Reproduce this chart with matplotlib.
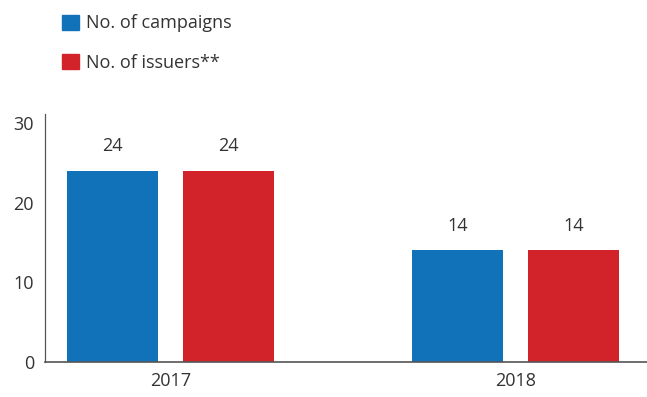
import matplotlib
matplotlib.use("Agg")
import matplotlib.pyplot as plt
from matplotlib.patches import Patch
import numpy as np

plt.rcParams['font.family'] = ['Open Sans', 'DejaVu Sans']

years = ["2017", "2018"]
campaigns = [24, 14]
issuers = [24, 14]
series_names = ["No. of campaigns", "No. of issuers**"]
yticks = [0, 10, 20, 30]

blue = "#1172BA"
red = "#D2232A"
txt = "#333333"

fig = plt.figure(figsize=(6.47, 3.97), dpi=100)
ax = fig.add_axes([45/647, 1-362/397, (647-45)/647, 248/397])

x = np.arange(len(years))
w = 0.264
off = 0.168
b1 = ax.bar(x - off, campaigns, w, color=blue)
b2 = ax.bar(x + off, issuers, w, color=red)

for bars, vals in ((b1, campaigns), (b2, issuers)):
    for rect, v in zip(bars, vals):
        ax.annotate(str(v), (rect.get_x() + rect.get_width()/2, rect.get_height()),
                    xytext=(0, 11), textcoords="offset points",
                    ha="center", va="bottom", fontsize=13, color=txt)

ax.set_xlim(-0.364, 1.38)
ax.set_ylim(0, 31.1)
ax.set_yticks(yticks)
ax.set_yticklabels([str(t) for t in yticks])
ax.set_xticks(x)
ax.set_xticklabels(years)
ax.tick_params(axis="both", length=0, labelsize=13, colors=txt)
ax.tick_params(axis="y", pad=8)
ax.tick_params(axis="x", pad=7)
for s in ("top", "right"):
    ax.spines[s].set_visible(False)
ax.spines["left"].set_color("#555555")
ax.spines["bottom"].set_color("#555555")
ax.spines["left"].set_linewidth(0.9)
ax.spines["bottom"].set_linewidth(1.2)

handles = [Patch(color=blue), Patch(color=red)]
fig.legend(handles, series_names, loc="upper left", bbox_to_anchor=(46/647, 1.005),
           frameon=False, fontsize=13, handlelength=0.9, handleheight=0.9,
           handletextpad=0.4, labelspacing=1.2, labelcolor=txt)

fig.savefig("out.png", dpi=100)
